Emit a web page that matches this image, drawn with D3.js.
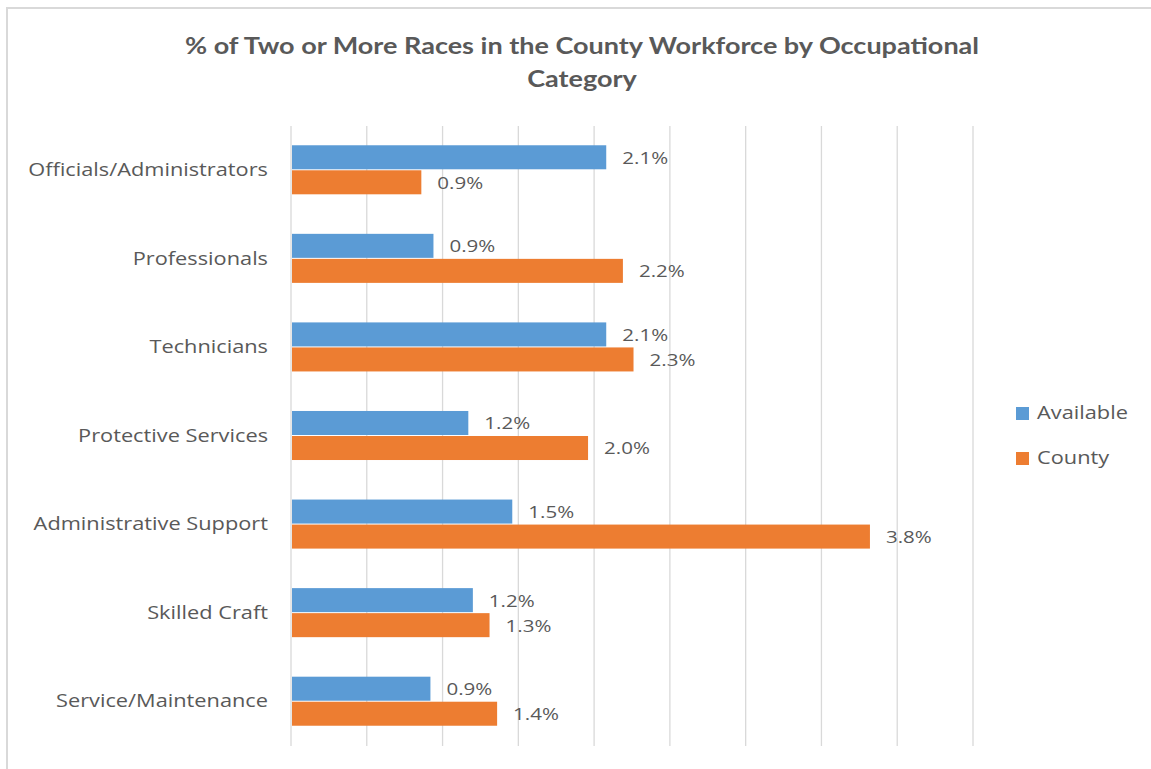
<!DOCTYPE html>
<html>
<head>
<meta charset="utf-8">
<script src="https://cdn.jsdelivr.net/npm/d3@7"></script>
<style>
  html, body { margin: 0; padding: 0; background: #fff; }
  svg { display: block; }
</style>
</head>
<body>
<svg id="chart" width="1151" height="769"></svg>
<script>
const categories = ["Officials/Administrators", "Professionals", "Technicians", "Protective Services", "Administrative Support", "Skilled Craft", "Service/Maintenance"];
const seriesNames = ["Available", "County"];
const availableValues = [2.08, 0.94, 2.08, 1.17, 1.46, 1.20, 0.92];
const countyValues = [0.86, 2.19, 2.26, 1.96, 3.82, 1.31, 1.36];
const xTicks = [0, 0.5, 1, 1.5, 2, 2.5, 3, 3.5, 4, 4.5];
const titleLines = ["% of Two or More Races in the County Workforce by Occupational", "Category"];
const colors = ["#5B9BD5", "#ED7D31"];

const SX = 1.21; // horizontal stretch of text seen in the reference
const SXT = 1.175;
const svg = d3.select("#chart");
const W = 1151, H = 769;

// chart border
svg.append("rect").attr("x", 7).attr("y", 8).attr("width", W + 10).attr("height", H + 10)
  .attr("fill", "#fff").attr("stroke", "#d9d9d9").attr("stroke-width", 2);

const plot = { left: 291, right: 973, top: 126, bottom: 746 };

const x = d3.scaleLinear().domain([0, 4.5]).range([plot.left, plot.right]);
const y = d3.scaleBand().domain(categories).range([plot.top, plot.bottom])
  .paddingInner(0.435).paddingOuter(0.2175);
const ySub = d3.scaleBand().domain(seriesNames).range([0, y.bandwidth()]);

// gridlines
svg.append("g").selectAll("line").data(xTicks).join("line")
  .attr("x1", d => x(d)).attr("x2", d => x(d))
  .attr("y1", plot.top).attr("y2", plot.bottom)
  .attr("stroke", "#d9d9d9").attr("stroke-width", 1.3);

// title
svg.append("g").selectAll("text").data(titleLines).join("text")
  .attr("transform", (d, i) => `translate(582,${54 + i * 33}) scale(${SXT},1)`)
  .attr("text-anchor", "middle")
  .attr("font-family", "Lato, sans-serif").attr("font-weight", "bold")
  .attr("font-size", 23).attr("fill", "#595959")
  .text(d => d);

// category axis labels
const yAxis = d3.axisLeft(y).tickSize(0).tickPadding(23);
const yg = svg.append("g").attr("transform", `translate(${plot.left},0)`).call(yAxis);
yg.select(".domain").remove();
yg.selectAll("text")
  .attr("x", -23 / SX)
  .attr("transform", `scale(${SX},1)`)
  .attr("font-family", "'Open Sans', sans-serif").attr("font-size", 18)
  .attr("fill", "#595959");

const data = categories.map((c, i) => ({ cat: c, vals: [
  { s: seriesNames[0], v: availableValues[i] },
  { s: seriesNames[1], v: countyValues[i] }
]}));

const groups = svg.append("g").selectAll("g").data(data).join("g")
  .attr("transform", d => `translate(0,${y(d.cat)})`);

groups.selectAll("rect").data(d => d.vals).join("rect")
  .attr("x", x(0) + 1)
  .attr("y", d => ySub(d.s))
  .attr("width", d => x(d.v) - x(0) - 1)
  .attr("height", ySub.bandwidth() - 1)
  .attr("fill", (d, i) => colors[i]);

groups.selectAll("text").data(d => d.vals).join("text")
  .attr("transform", d => `translate(${x(d.v) + 16},${ySub(d.s) + ySub.bandwidth() / 2}) scale(${SX},1)`)
  .attr("dy", "0.35em")
  .attr("font-family", "'Open Sans', sans-serif").attr("font-size", 17)
  .attr("fill", "#595959")
  .text(d => d.v.toFixed(1) + "%");

// legend
const legend = svg.append("g").selectAll("g").data(seriesNames).join("g")
  .attr("transform", (d, i) => `translate(1016,${407 + i * 45})`);
legend.append("rect").attr("width", 13).attr("height", 13).attr("fill", (d, i) => colors[i]);
legend.append("text")
  .attr("transform", `translate(21,6) scale(${SX},1)`)
  .attr("dy", "0.35em")
  .attr("font-family", "'Open Sans', sans-serif").attr("font-size", 18)
  .attr("fill", "#595959").text(d => d);
</script>
</body>
</html>
